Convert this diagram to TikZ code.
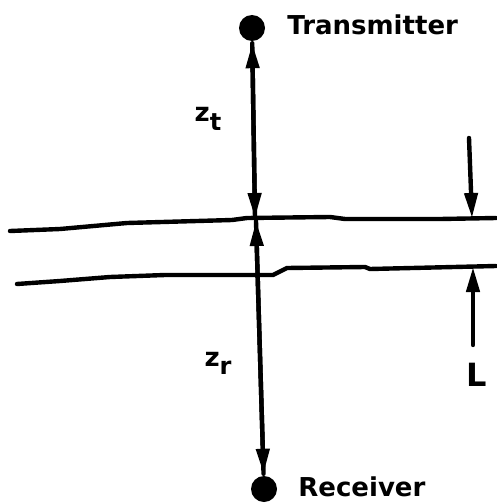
\documentclass[tikz,border=0pt]{standalone}
\usepackage{fontspec}
\setmainfont{DejaVu Sans}
\usetikzlibrary{arrows.meta, positioning}

\begin{document}
\begin{tikzpicture}[x=1pt, y=-1pt, line width=4.4pt, line cap=round, line join=round,
    tip/.style={-{Triangle[length=25pt,width=13pt]}},
    antenna/.style={circle, fill=black, inner sep=0pt, minimum size=26pt},
    lbl/.style={inner sep=0pt, font=\bfseries\fontsize{26}{30}\selectfont}]
  \useasboundingbox (0,0) rectangle (496,503);
  % source and receiver
  \node[antenna] (tx) at (252,28) {};
  \node[antenna] (rx) at (264,489) {};
  \node[lbl, right=18pt of tx, yshift=3pt] (txname) {Transmitter};
  \node[lbl, right=17pt of rx, yshift=2pt] (rxname) {Receiver};
  % layer boundaries
  \draw (10,231) -- (60,229) -- (127,223) -- (232,220) -- (247,218) -- (330,217)
    -- (345,219) -- (440,219) -- (496,218);
  \draw (17,284) -- (60,281) -- (110,277) -- (165,275) -- (273,275) -- (287,268)
    -- (365,267) -- (370,269) -- (496,266);
  % distances to the layer
  \coordinate (ztop) at (255,218);
  \coordinate (zbot) at (256,221);
  \draw[tip] (ztop) -- (tx);
  \draw[tip] (tx) -- (ztop);
  \draw[tip] (rx) -- (zbot);
  \draw[tip] (zbot) -- (rx);
  \node[lbl] (zt) at (208,119) {z\raisebox{-9pt}{\fontsize{24}{28}\selectfont t}};
  \node[lbl] (zr) at (218,363) {z\raisebox{-8pt}{\fontsize{24}{28}\selectfont r}};
  % thickness
  \coordinate (Ltop) at (472,218);
  \coordinate (Lbot) at (473,267);
  \coordinate (Lin) at (469,138);
  \coordinate (Lout) at (473,345);
  \draw[tip] (Lin) -- (Ltop);
  \draw[tip] (Lout) -- (Lbot);
  \node[lbl, font=\bfseries\fontsize{32}{36}\selectfont] (thick) at (477,375) {L};
\end{tikzpicture}
\end{document}
